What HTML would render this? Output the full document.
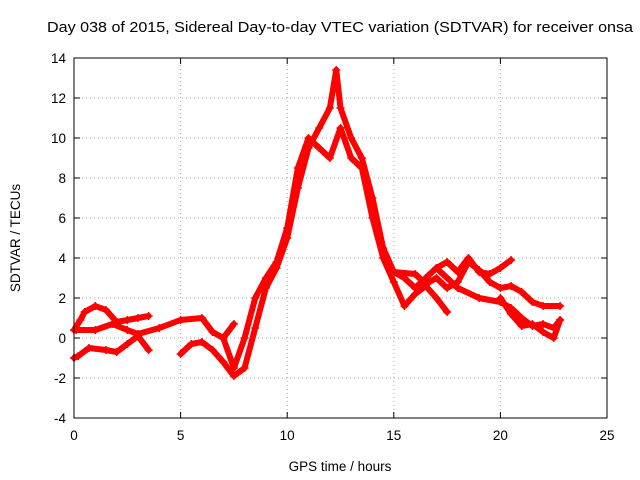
<!DOCTYPE html>
<html><head><meta charset="utf-8"><style>
body{margin:0;background:#fff;}
svg{display:block;font-family:"Liberation Sans",sans-serif;}
</style></head><body>
<svg id="chart" width="640" height="480">
<text x="340" y="32" font-size="14.6" text-anchor="middle" textLength="586" lengthAdjust="spacingAndGlyphs">Day 038 of 2015, Sidereal Day-to-day VTEC variation (SDTVAR) for receiver onsa</text>
<text x="340" y="471" font-size="13.5" text-anchor="middle">GPS time / hours</text>
<text x="20" y="238" font-size="13.5" text-anchor="middle" transform="rotate(-90 20 238)">SDTVAR / TECUs</text>
<g id="grid"></g><g id="axes"></g><g id="series"></g>
<rect x="74" y="58" width="533" height="360" fill="none" stroke="#000"/>
</svg>
<script>
const xTicks=[0,5,10,15,20,25];
const yTicks=[-4,-2,0,2,4,6,8,10,12,14];
const s1x=[0,0.3,0.5,1,1.5,2,2.5,3,3.5];
const s1y=[0.4,0.9,1.3,1.6,1.4,0.8,0.9,1.0,1.1];
const s2x=[0,0.2,0.7,1.5,2,2.5,3,3.5];
const s2y=[-1,-0.9,-0.5,-0.6,-0.7,-0.3,0.1,-0.6];
const s3x=[0.1,1,1.8,2.5,3,4,5,6,6.5,7,7.5];
const s3y=[0.4,0.4,0.7,0.4,0.2,0.5,0.9,1.0,0.3,0,0.7];
const s4x=[5,5.5,6,6.5,7,7.5,8,8.5,9,9.5,10,10.5,11,11.5,12,12.3,12.5,13,13.5,14,14.5,15,15.5,16,16.5,17,17.5,18,18.5,19,19.5,20,20.5];
const s4y=[-0.8,-0.3,-0.2,-0.6,-1.2,-1.9,-1.5,0.5,2.5,3.5,5,7.5,9.5,10.5,11.5,13.4,11.5,10,9,7,4.5,3.3,3.0,2.5,3.0,3.5,3.8,3.3,4.0,3.3,3.2,3.5,3.9];
const s5x=[7,7.5,8,8.5,9,9.5,10,10.5,11,11.5,12,12.5,13,13.5,14,14.5,15,15.5,16,16.5,17,17.5];
const s5y=[0,-1.5,0,2,3,3.8,5.5,8.5,10,9.5,9,10.5,9,8.5,6,4,2.8,1.6,2.2,2.6,2.0,1.3];
const s6x=[15,16,16.5,17,17.5,18,18.5,19,19.5,20,20.5,21,21.5,22,22.8];
const s6y=[3.3,3.2,2.7,3.0,2.5,2.8,3.8,3.4,2.8,2.5,2.6,2.3,1.8,1.6,1.6];
const s7x=[17,18,19,20,20.5,21,21.5,22,22.5,22.8];
const s7y=[3.5,2.5,2.0,1.8,1.5,1.0,0.6,0.7,0.5,0.9];
const s8x=[20,20.5,21,21.5,22,22.5,22.8];
const s8y=[2.0,1.2,0.6,0.7,0.3,0,0.9];
const seriesX=[s1x,s2x,s3x,s4x,s5x,s6x,s7x,s8x];
const seriesY=[s1y,s2y,s3y,s4y,s5y,s6y,s7y,s8y];
const X0=74,X1=607,Y0=418,Y1=58;
function sx(v){return X0+(v-0)/(25-0)*(X1-X0);}
function sy(v){return Y0-(v+4)/(18)*(Y0-Y1);}
const NS="http://www.w3.org/2000/svg";
const grid=document.getElementById('grid'),axes=document.getElementById('axes'),ser=document.getElementById('series');
function mk(t,a,p){const e=document.createElementNS(NS,t);for(const k in a)e.setAttribute(k,a[k]);p.appendChild(e);return e;}
xTicks.forEach(t=>{
 const x=sx(t);
 if(t>0&&t<25){const g=mk('line',{x1:x,x2:x,y1:Y0,y2:Y1,stroke:'#aaa','stroke-dasharray':'1,3'},grid);
 
 }
 mk('line',{x1:x,x2:x,y1:Y0,y2:Y0-6,stroke:'#000'},axes);
 mk('line',{x1:x,x2:x,y1:Y1,y2:Y1+6,stroke:'#000'},axes);
 const l=mk('text',{x:x,y:Y0+22,'font-size':13.5,'text-anchor':'middle'},axes);l.textContent=t;
 
 
});
yTicks.forEach(t=>{
 const y=sy(t);
 if(t>-4&&t<14){const g=mk('line',{x1:X0,x2:X1,y1:y,y2:y,stroke:'#aaa','stroke-dasharray':'1,3'},grid);
 
 }
 mk('line',{x1:X0,x2:X0+6,y1:y,y2:y,stroke:'#000'},axes);
 mk('line',{x1:X1,x2:X1-6,y1:y,y2:y,stroke:'#000'},axes);
 const l=mk('text',{x:X0-8,y:y+5,'font-size':13.5,'text-anchor':'end'},axes);l.textContent=t;
 
 
});
seriesX.forEach((xs,i)=>{
 const ys=seriesY[i];
 const pts=xs.map((v,j)=>sx(v)+','+sy(ys[j])).join(' ');
 const pl=mk('polyline',{points:pts,fill:'none',stroke:'#f00','stroke-width':6,'stroke-linejoin':'round','stroke-linecap':'round'},ser);
 
 
 xs.forEach((v,j)=>{
  const cx=sx(v),cy=sy(ys[j]);
  const p=mk('path',{d:`M${cx-4},${cy}H${cx+4}M${cx},${cy-4}V${cy+4}`,stroke:'#f00','stroke-width':1.5},ser);
  
  
 });
});
</script>
</body></html>
